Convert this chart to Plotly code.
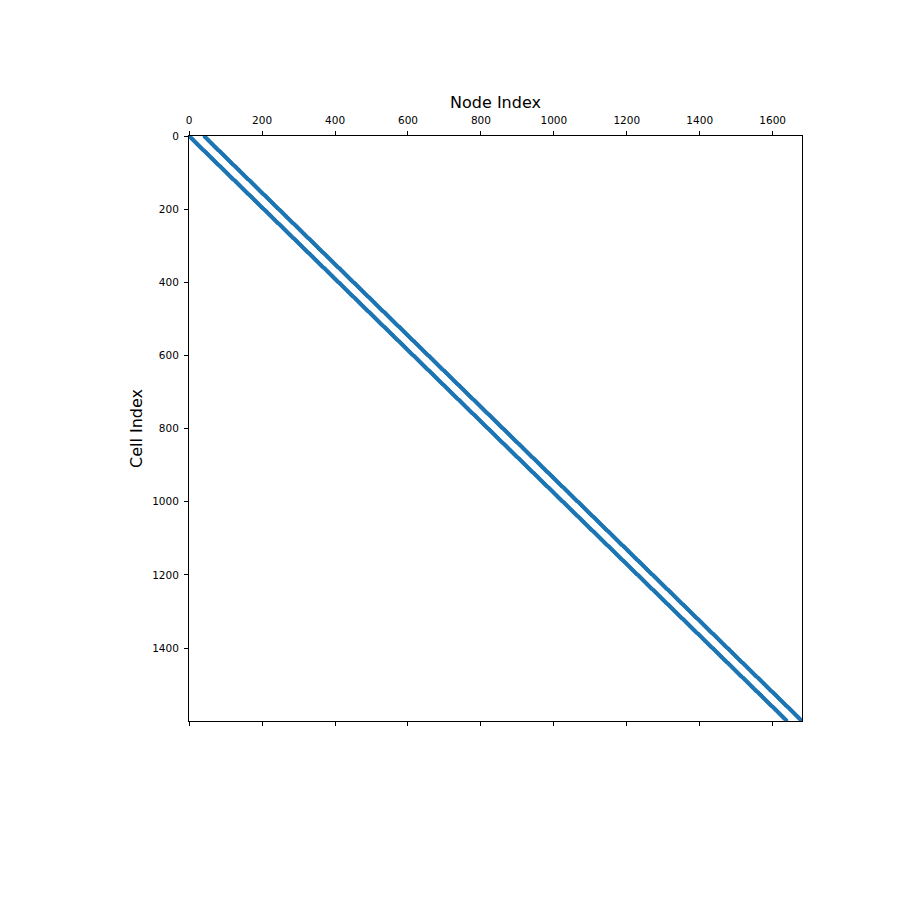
import numpy as np
import plotly.graph_objects as go

# Mesh structure: 40 x 40 quad cells -> 41 x 41 nodes
cells_x = [40]
cells_y = [40]
x_ticks = [0, 200, 400, 600, 800, 1000, 1200, 1400, 1600]
y_ticks = [0, 200, 400, 600, 800, 1000, 1200, 1400]

ncx, ncy = cells_x[0], cells_y[0]
nnx = ncx + 1
n_nodes = nnx * (ncy + 1)
n_cells = ncx * ncy

rows, cols = [], []
for i in range(ncy):
    for j in range(ncx):
        c = i * ncx + j
        n0 = i * nnx + j
        for n in (n0, n0 + 1, n0 + nnx, n0 + nnx + 1):
            rows.append(c)
            cols.append(n)

fig = go.Figure(go.Scatter(
    x=cols, y=rows, mode="markers",
    marker=dict(symbol="square", size=2.8, color="#1f77b4", line=dict(width=0)),
    hoverinfo="skip", showlegend=False))

fig.update_layout(
    width=900, height=900,
    margin=dict(l=181, r=106, t=128, b=187),
    paper_bgcolor="white", plot_bgcolor="white",
    font=dict(family="DejaVu Sans", size=10.5, color="black"),
    xaxis=dict(side="top", range=[-0.5, n_nodes - 0.5], tickvals=x_ticks,
               ticks="outside", ticklen=4, tickwidth=1, tickcolor="black",
               ticklabelstandoff=3,
               showline=True, linecolor="black", linewidth=1, mirror="ticks",
               showgrid=False, zeroline=False, tickfont=dict(size=10.5),
               title=dict(text="Node Index", font=dict(size=16), standoff=1)),
    yaxis=dict(range=[n_cells - 0.5, -0.5], tickvals=y_ticks,
               ticks="outside", ticklen=4, tickwidth=1, tickcolor="black",
               ticklabelstandoff=3,
               showline=True, linecolor="black", linewidth=1, mirror=True,
               showgrid=False, zeroline=False, tickfont=dict(size=10.5),
               title=dict(text="Cell Index", font=dict(size=16), standoff=5)),
)
fig.write_html("out.html")
